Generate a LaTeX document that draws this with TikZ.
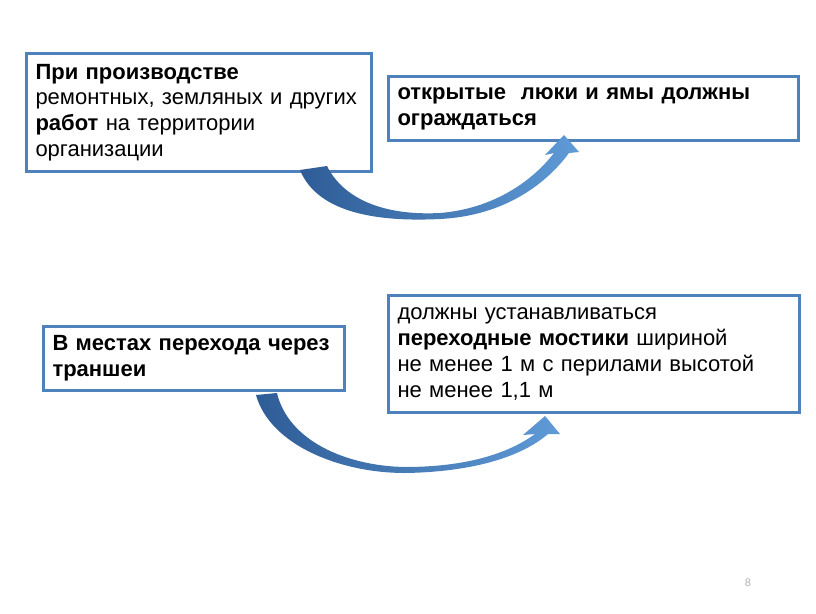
\documentclass[tikz,border=0pt]{standalone}
\usepackage{fontspec}
\setmainfont{Liberation Sans}
\definecolor{boxblue}{RGB}{79,129,189}
\definecolor{arrdark}{RGB}{46,92,150}
\definecolor{arrlight}{RGB}{95,155,215}
\begin{document}
\begin{tikzpicture}[x=1pt,y=-1pt,
  box/.style={draw=boxblue, line width=3pt, fill=white, rectangle, anchor=north west,
    align=left, inner xsep=9pt, inner ysep=0pt, font=\fontsize{22}{25.8}\selectfont},
  blockarrow/.style={left color=arrdark, right color=arrlight, draw=none}]
\useasboundingbox (0,0) rectangle (816,613);
\fill[white] (0,0) rectangle (816,613);

\node[box, text width=327pt, minimum height=118pt] (b1) at (25,52)
  {\textbf{При производстве}\\ремонтных, земляных и других\\\textbf{работ} на территории\\организации};
\node[box, text width=392pt, minimum height=64pt] (b2) at (387,75)
  {\textbf{открытые\ \ люки и ямы должны}\\\textbf{ограждаться}};
\node[box, text width=283pt, minimum height=64pt] (b3) at (42,325)
  {\textbf{В местах перехода через}\\\textbf{траншеи}};
\node[box, text width=393pt, minimum height=117pt] (b4) at (387,294)
  {должны устанавливаться\\\textbf{переходные мостики} шириной\\не менее 1 м с перилами высотой\\не менее 1,1 м};

% curved block arrow 1 (b1 -> b2)
\path[blockarrow]
  (300,170) .. controls (318,214) and (380,222) .. (440,219)
  .. controls (500,216) and (543,188) .. (569,153)
  -- (579,152) -- (564,135) -- (545,155) -- (554,153)
  .. controls (530,184) and (490,209) .. (440,213)
  .. controls (382,216) and (343,198) .. (327,166) -- cycle;

% curved block arrow 2 (b3 -> b4)
\path[blockarrow]
  (256,395) .. controls (270,445) and (340,473) .. (405,473)
  .. controls (470,472) and (520,458) .. (548,434)
  -- (560,434) -- (545,416) -- (523,435) -- (535,434)
  .. controls (505,456) and (460,467) .. (405,467)
  .. controls (345,466) and (288,440) .. (277,393) -- cycle;

\node[text=gray!60, font=\fontsize{11}{12}\selectfont] (pg) at (748,583) {8};
\end{tikzpicture}
\end{document}
